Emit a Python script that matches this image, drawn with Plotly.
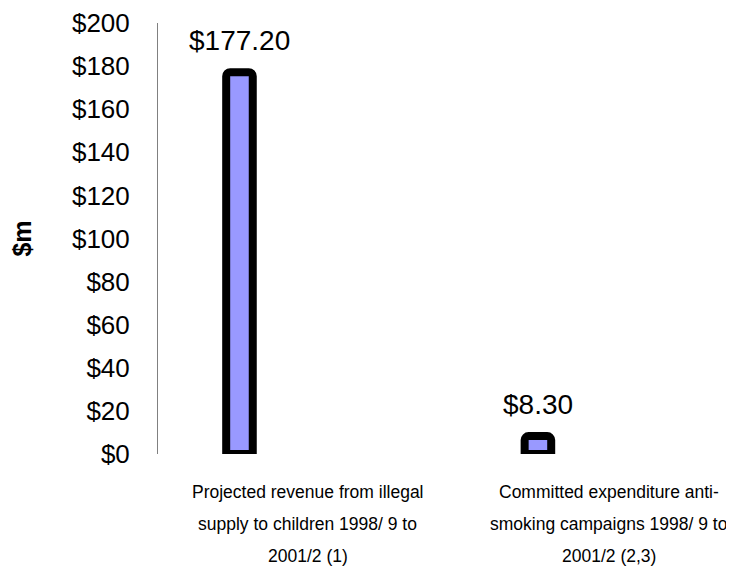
import plotly.graph_objects as go

# ---- data ----
category_lines = [
    ["Projected revenue from illegal", "supply to children 1998/ 9 to", "2001/2 (1)"],
    ["Committed expenditure anti-", "smoking campaigns 1998/ 9 to", "2001/2 (2,3)"],
]
values = [177.20, 8.30]
y_tickvals = [0, 20, 40, 60, 80, 100, 120, 140, 160, 180, 200]
y_ticktext = ["$0", "$20", "$40", "$60", "$80", "$100", "$120", "$140", "$160", "$180", "$200"]
y_title = "$m"

FONT = "Liberation Sans, Arial, sans-serif"
bar_x = list(range(len(values)))

fig = go.Figure()
fig.add_trace(go.Bar(
    x=bar_x, y=values, width=0.089,
    marker=dict(color="#9999FF", line=dict(color="black", width=8), cornerradius=4),
    hoverinfo="skip",
))

annotations = []
# value labels
for x, v in zip(bar_x, values):
    annotations.append(dict(
        x=x, y=v, xref="x", yref="y", text=f"${v:.2f}", showarrow=False,
        yanchor="bottom", yshift=14, font=dict(family=FONT, size=28, color="black"),
    ))
# category labels (three lines each, wide line spacing)
label_offsets = [0.228, 0.237]
line_shifts = [-38, -70, -102]
for x, lines, off in zip(bar_x, category_lines, label_offsets):
    for ln, ys in zip(lines, line_shifts):
        annotations.append(dict(
            x=x + off, y=0, xref="x", yref="paper", text=ln, showarrow=False,
            yanchor="middle", yshift=ys, font=dict(family=FONT, size=17.5, color="black"),
        ))

fig.update_layout(
    width=726, height=566,
    margin=dict(l=150, r=0, t=15, b=120),
    paper_bgcolor="white", plot_bgcolor="white",
    showlegend=False,
    annotations=annotations,
    font=dict(family=FONT, color="black"),
    xaxis=dict(range=[-0.273, 1.657], showgrid=False, zeroline=False,
               showline=False, showticklabels=False, ticks=""),
    yaxis=dict(range=[0, 200], tickvals=y_tickvals, ticktext=y_ticktext,
               showgrid=False, zeroline=False, showline=True, linecolor="#808080",
               linewidth=1, ticks="", ticklabelstandoff=22,
               tickfont=dict(family=FONT, size=26, color="black"),
               title=dict(text=y_title, standoff=41,
                          font=dict(family=FONT, size=25, color="black", weight="bold"))),
)

fig.write_html("out.html")
